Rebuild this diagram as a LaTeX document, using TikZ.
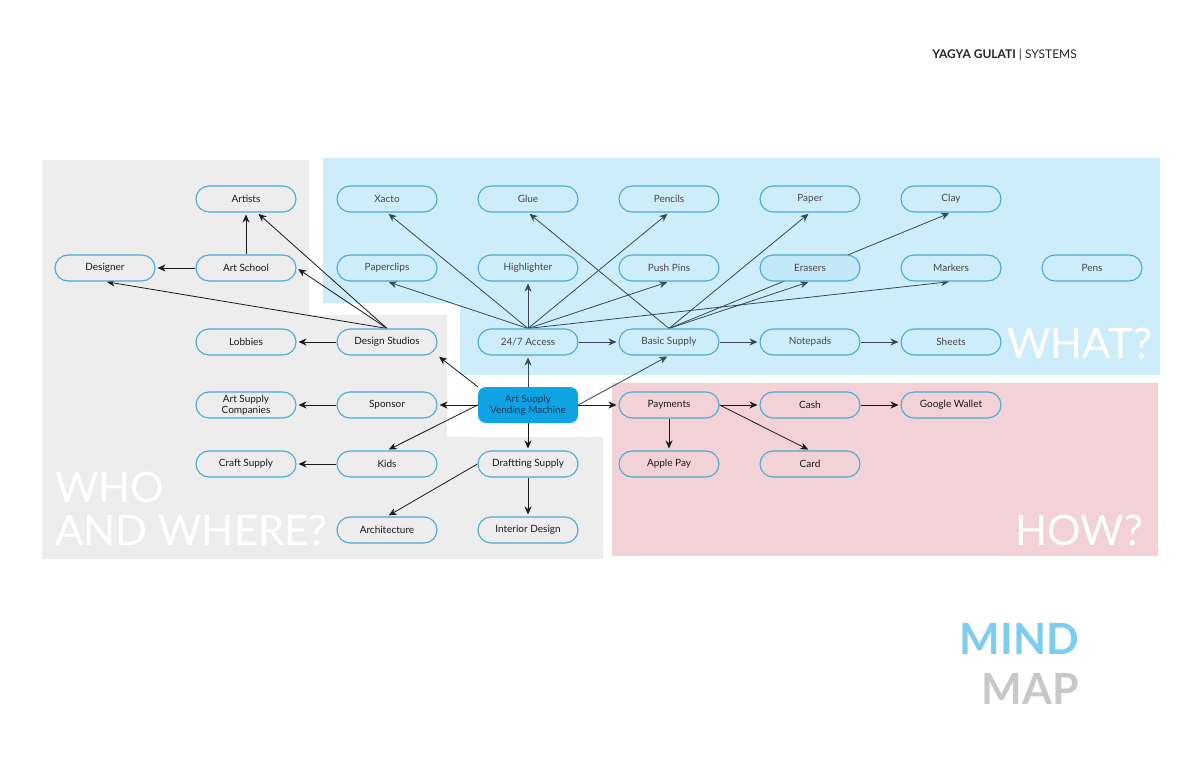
\documentclass[tikz,border=0pt]{standalone}
\usepackage{fontspec}
\setmainfont{Lato}
\usepackage{tikz}
\usetikzlibrary{positioning,arrows.meta}
\definecolor{whogray}{RGB}{237,237,237}
\definecolor{whatblue}{RGB}{206,237,250}
\definecolor{howpink}{RGB}{242,210,214}
\definecolor{rimblue}{RGB}{74,170,212}
\definecolor{machineblue}{RGB}{16,163,227}
\definecolor{machinetext}{RGB}{25,55,90}
\definecolor{slate}{RGB}{55,70,85}
\definecolor{mindblue}{RGB}{125,205,240}
\definecolor{mapgray}{RGB}{200,200,200}
\pgfdeclarelayer{regions}
\pgfdeclarelayer{links}
\pgfsetlayers{regions,links,main}

\begin{document}
\begin{tikzpicture}[x=1pt, y=-1pt, node distance=141pt,
  itembox/.style={draw=rimblue, line width=1.1pt, rounded corners=13pt, minimum width=100pt, minimum height=26pt, inner sep=1pt, align=center, font=\fontsize{10}{10.5}\selectfont},
  whobox/.style={itembox, fill=whogray, text=black!90},
  whatbox/.style={itembox, fill=whatblue, text=black!72},
  howbox/.style={itembox, fill=howpink, text=black!90},
  machine/.style={fill=machineblue, rounded corners=8pt, minimum width=100pt, minimum height=36pt, inner sep=1pt, align=center, text=machinetext, font=\fontsize{10}{10.5}\selectfont},
  link/.style={-{Stealth[length=8pt,width=7pt]}, line width=0.8pt, black!90, shorten >=2pt},
  whatlink/.style={link, slate},
  bigword/.style={anchor=base west, inner sep=0pt, font=\fontsize{42}{42}\selectfont, text=white}]
\useasboundingbox (0,0) rectangle (1186,767);

% regions
\begin{pgfonlayer}{regions}
\fill[white] (0,0) rectangle (1186,767);
\fill[whogray] (42,160) -- (309,160) -- (309,315) -- (447,315) -- (447,437) -- (603,437) -- (603,559) -- (42,559) -- cycle;
\fill[whatblue] (323,158) -- (1160,158) -- (1160,375) -- (460,375) -- (460,303) -- (323,303) -- cycle;
\fill[howpink] (612,383) rectangle (1158,556);
\end{pgfonlayer}

\node[anchor=base east, inner sep=0pt, font=\fontsize{12}{12}\selectfont, text=black!85] (header) at (1077,59) {\textbf{YAGYA GULATI} | SYSTEMS};

% who and where
\node[whobox] (artists) at (246,199) {Artists};
\node[whobox] (artschool) at (246,268) {Art School};
\node[whobox, left of=artschool] (designer) {Designer};
\node[whobox] (lobbies) at (246,342) {Lobbies};
\node[whobox, right of=lobbies] (studios) {Design Studios};
\node[whobox] (companies) at (246,405) {Art Supply\\Companies};
\node[whobox, right of=companies] (sponsor) {Sponsor};
\node[machine, right of=sponsor] (vm) {Art Supply\\Vending Machine};
\node[whobox] (craft) at (246,464) {Craft Supply};
\node[whobox, right of=craft] (kids) {Kids};
\node[whobox, right of=kids] (drafting) {Draftting Supply};
\node[whobox] (architecture) at (387,530) {Architecture};
\node[whobox, right of=architecture] (interior) {Interior Design};

% what
\node[whatbox] (xacto) at (387,199) {Xacto};
\node[whatbox, right of=xacto] (glue) {Glue};
\node[whatbox, right of=glue] (pencils) {Pencils};
\node[whatbox, right of=pencils] (paper) {Paper};
\node[whatbox, right of=paper] (clay) {Clay};
\node[whatbox] (paperclips) at (387,268) {Paperclips};
\node[whatbox, right of=paperclips] (highlighter) {Highlighter};
\node[whatbox, right of=highlighter] (pushpins) {Push Pins};
\node[whatbox, fill=whatblue!92!rimblue, right of=pushpins] (erasers) {Erasers};
\node[whatbox, right of=erasers] (markers) {Markers};
\node[whatbox, right of=markers] (pens) {Pens};
\node[whatbox, right of=studios] (access) {24/7 Access};
\node[whatbox, right of=access] (basic) {Basic Supply};
\node[whatbox, right of=basic] (notepads) {Notepads};
\node[whatbox, right of=notepads] (sheets) {Sheets};

% how
\node[howbox, right of=vm] (payments) {Payments};
\node[howbox, right of=payments] (cash) {Cash};
\node[howbox, right of=cash] (wallet) {Google Wallet};
\node[howbox, right of=drafting] (applepay) {Apple Pay};
\node[howbox, right of=applepay] (card) {Card};

\node[bigword] (who) at (55,502) {WHO};
\node[bigword] (where) at (55,545) {AND WHERE?};
\node[bigword, anchor=base east] (what) at (1152,358) {WHAT?};
\node[bigword, anchor=base east] (how) at (1143,545) {HOW?};
\node[anchor=base east, inner sep=0pt, font=\fontsize{43}{43}\selectfont\bfseries, text=mindblue] (mind) at (1079,654) {MIND};
\node[anchor=base east, inner sep=0pt, font=\fontsize{43}{43}\selectfont\bfseries, text=mapgray] (map) at (1079,704) {MAP};

\begin{pgfonlayer}{links}
\draw[link] (artschool) -- (artists);
\draw[link] (artschool) -- (designer);
\draw[link] (studios.north) -- ([xshift=11pt]artists.south);
\draw[link] (studios.north) -- (artschool.east);
\draw[link] (studios.north) -- (designer.south);
\draw[link] (studios) -- (lobbies);
\draw[link] (vm.north west) -- (studios.south east);
\draw[link] (vm) -- (sponsor);
\draw[link] (vm.west) -- (kids.north);
\draw[link] (sponsor) -- (companies);
\draw[link] (kids) -- (craft);
\draw[link] (vm) -- (drafting);
\draw[link] (drafting.west) -- (architecture.north);
\draw[link] (drafting) -- (interior);
\draw[link] (vm) -- (payments);
\draw[link] (payments) -- (cash);
\draw[link] (payments) -- (applepay);
\draw[link] (payments.east) -- (card.north);
\draw[link] (cash) -- (wallet);
\draw[whatlink] (vm) -- (access);
\draw[whatlink] (vm.east) -- (basic.south);
\draw[whatlink] (access) -- (basic);
\draw[whatlink] (basic) -- (notepads);
\draw[whatlink] (notepads) -- (sheets);
\foreach \t in {xacto,paperclips,highlighter,pencils,pushpins,markers}
  \draw[whatlink] (access.north) -- (\t.south);
\foreach \t in {glue,paper,erasers,clay}
  \draw[whatlink] (basic.north) -- (\t.south);
\end{pgfonlayer}
\end{tikzpicture}
\end{document}
